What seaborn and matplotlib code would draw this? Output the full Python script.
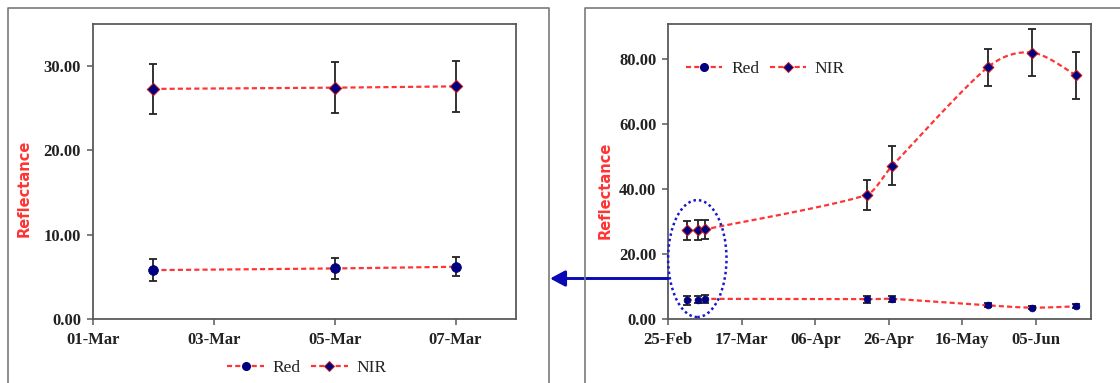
import numpy as np
import pandas as pd
import matplotlib
matplotlib.use("Agg")
import matplotlib.pyplot as plt
import matplotlib.dates as mdates
from matplotlib.lines import Line2D
from matplotlib.patches import Ellipse, FancyArrowPatch
from matplotlib.ticker import FormatStrFormatter
import seaborn as sns

# ---------------- data ----------------
left_dates = ["2019-03-02", "2019-03-05", "2019-03-07"]
red_left = [5.8, 6.0, 6.2]
red_left_err = [1.35, 1.2, 1.15]
nir_left = [27.3, 27.45, 27.6]
nir_left_err = [3.0, 3.05, 3.0]

right_dates = ["2019-03-02", "2019-03-05", "2019-03-07", "2019-04-20",
               "2019-04-27", "2019-05-23", "2019-06-04", "2019-06-16"]
red_right = [5.8, 6.0, 6.2, 6.1, 6.2, 4.2, 3.5, 3.9]
red_right_err = [1.35, 1.2, 1.15, 1.1, 1.0, 0.6, 0.4, 0.6]
nir_right = [27.3, 27.45, 27.6, 38.2, 47.2, 77.5, 82.0, 75.0]
nir_right_err = [3.0, 3.05, 3.0, 4.6, 6.0, 5.75, 7.15, 7.2]

series_names = ["Red", "NIR"]
left_ticks = ["2019-03-01", "2019-03-03", "2019-03-05", "2019-03-07"]
right_ticks = ["2019-02-25", "2019-03-17", "2019-04-06", "2019-04-26",
               "2019-05-16", "2019-06-05"]
y_label = "Reflectance"

# ---------------- style ----------------
sns.set_theme(style="white")
plt.rcParams["font.family"] = ["Liberation Serif", "DejaVu Serif"]

LINE = "#FF3535"
NAVY = "#000080"
DASH = (0, (2.3, 1.4))
TXT = "#222222"
SPINE = "#5a5a5a"

W, H = 1120, 383
fig = plt.figure(figsize=(W / 100, H / 100), dpi=100)
fig.patch.set_facecolor("white")


def fx(px):
    return px / W


def fy(py):
    return 1 - py / H


axL = fig.add_axes([fx(92.7), fy(319), (516 - 92.7) / W, 295 / H])
axR = fig.add_axes([fx(668.3), fy(319), (1090.7 - 668.3) / W, 295 / H])


def smooth(x, vals, n=40):
    """Excel-like smoothed line through the points (Bezier, Catmull-Rom tangents)."""
    P = np.column_stack([np.asarray(x, float), np.asarray(vals, float)])
    m = len(P)
    T = np.array([(P[min(i + 1, m - 1)] - P[max(i - 1, 0)]) / 6 for i in range(m)])
    out = []
    t = np.linspace(0, 1, n)[:, None]
    for i in range(m - 1):
        lim = (P[i + 1, 0] - P[i, 0]) / 3
        t0, t1 = T[i].copy(), T[i + 1].copy()
        if abs(t0[0]) > lim:
            t0 *= lim / abs(t0[0])
        if abs(t1[0]) > lim:
            t1 *= lim / abs(t1[0])
        c0, c1, c2, c3 = P[i], P[i] + t0, P[i + 1] - t1, P[i + 1]
        seg = (1 - t) ** 3 * c0 + 3 * (1 - t) ** 2 * t * c1 + 3 * (1 - t) * t ** 2 * c2 + t ** 3 * c3
        out.append(seg if i == 0 else seg[1:])
    pts = np.vstack(out)
    return pd.DataFrame({"x": pts[:, 0], "y": pts[:, 1]})


def draw(ax, dates, red, red_err, nir, nir_err, s_red, s_nir, cap):
    x = mdates.date2num(pd.to_datetime(dates))
    for vals in (red, nir):
        df = smooth(x, vals)
        sns.lineplot(data=df, x="x", y="y", ax=ax, sort=False, estimator=None,
                     color=LINE, lw=1.6, linestyle=DASH, zorder=2)
    for vals, err in ((red, red_err), (nir, nir_err)):
        ax.errorbar(x, vals, yerr=err, fmt="none", ecolor=TXT, elinewidth=1.3,
                    capsize=cap, capthick=1.3, zorder=3)
    sns.scatterplot(x=x, y=red, ax=ax, marker="o", s=s_red, color=NAVY,
                    edgecolor=NAVY, linewidth=0.5, zorder=4)
    sns.scatterplot(x=x, y=nir, ax=ax, marker="D", s=s_nir, color=NAVY,
                    edgecolor="#C81818", linewidth=0.7, zorder=4)
    ax.set_xlabel("")
    ax.set_ylabel("")


draw(axL, left_dates, red_left, red_left_err, nir_left, nir_left_err, 50, 40, 3.2)
draw(axR, right_dates, red_right, red_right_err, nir_right, nir_right_err, 24, 30, 3.2)

# axes limits and ticks
axL.set_xlim(mdates.date2num(pd.Timestamp("2019-03-01")), mdates.date2num(pd.Timestamp("2019-03-08")))
axL.set_ylim(0, 35)
axL.set_xticks(mdates.date2num(pd.to_datetime(left_ticks)))
axL.set_yticks([0, 10, 20, 30])

axR.set_xlim(mdates.date2num(pd.Timestamp("2019-02-25")), mdates.date2num(pd.Timestamp("2019-06-20")))
axR.set_ylim(0, 90.8)
axR.set_xticks(mdates.date2num(pd.to_datetime(right_ticks)))
axR.set_yticks([0, 20, 40, 60, 80])

for ax, lx, ly in ((axL, -0.1616, 0.442), (axR, -0.150, 0.437)):
    ax.xaxis.set_major_formatter(mdates.DateFormatter("%d-%b"))
    ax.yaxis.set_major_formatter(FormatStrFormatter("%.2f"))
    ax.tick_params(axis="both", which="major", bottom=True, left=True,
                   direction="out", length=4, width=1.1, color=SPINE,
                   labelcolor=TXT, labelsize=12)
    ax.tick_params(axis="x", pad=5.5)
    ax.tick_params(axis="y", pad=4.5)
    for lab in ax.get_xticklabels() + ax.get_yticklabels():
        lab.set_fontweight("bold")
    for sp in ax.spines.values():
        sp.set_color(SPINE)
        sp.set_linewidth(1.3)
    ax.set_facecolor("white")
    ax.set_ylabel(y_label, color="#FF3333", fontsize=10.5, fontweight="bold",
                  family=["DejaVu Sans"], va="center")
    ax.yaxis.set_label_coords(lx, ly)

# legends
def handles():
    return [
        Line2D([], [], color=LINE, lw=1.6, linestyle=DASH, marker="o", ms=5.5,
               mfc=NAVY, mec=NAVY),
        Line2D([], [], color=LINE, lw=1.6, linestyle=DASH, marker="D", ms=5,
               mfc=NAVY, mec="#C81818", mew=0.7),
    ]

for ax, anchor in ((axL, (0.506, -0.165)), (axR, (0.230, 0.848))):
    leg = ax.legend(handles(), series_names, loc="center", bbox_to_anchor=anchor,
                    ncol=2, frameon=False, fontsize=12.5, handlelength=2.1,
                    handletextpad=0.5, columnspacing=0.6, borderpad=0.1)
    for t in leg.get_texts():
        t.set_color(TXT)

# dotted ellipse highlighting the early-March points
x0 = mdates.date2num(pd.Timestamp("2019-02-25"))
axR.add_patch(Ellipse((x0 + 7.9, 18.6), width=15.9, height=36, fill=False,
                      edgecolor="#1818CC", linestyle=(0, (1, 1.2)), lw=1.8,
                      zorder=5, clip_on=False))

# outer chart frames
fig.add_artist(Line2D([fx(8.3), fx(8.3), fx(549.3), fx(549.3)],
                      [0, fy(8), fy(8), 0], color="#7a7a7a", lw=1.2))
fig.add_artist(Line2D([fx(585), fx(585), 1.0], [0, fy(8), fy(8)],
                      color="#7a7a7a", lw=1.2))

# arrow pointing to the zoomed panel
fig.add_artist(FancyArrowPatch((fx(668), fy(278.5)), (fx(550), fy(278.5)),
                               transform=fig.transFigure,
                               arrowstyle="-|>,head_length=0.75,head_width=0.4",
                               mutation_scale=12, color="#0A0AB4", lw=2.1,
                               shrinkA=0, shrinkB=0))

fig.savefig("out.png", dpi=100, facecolor="white")
